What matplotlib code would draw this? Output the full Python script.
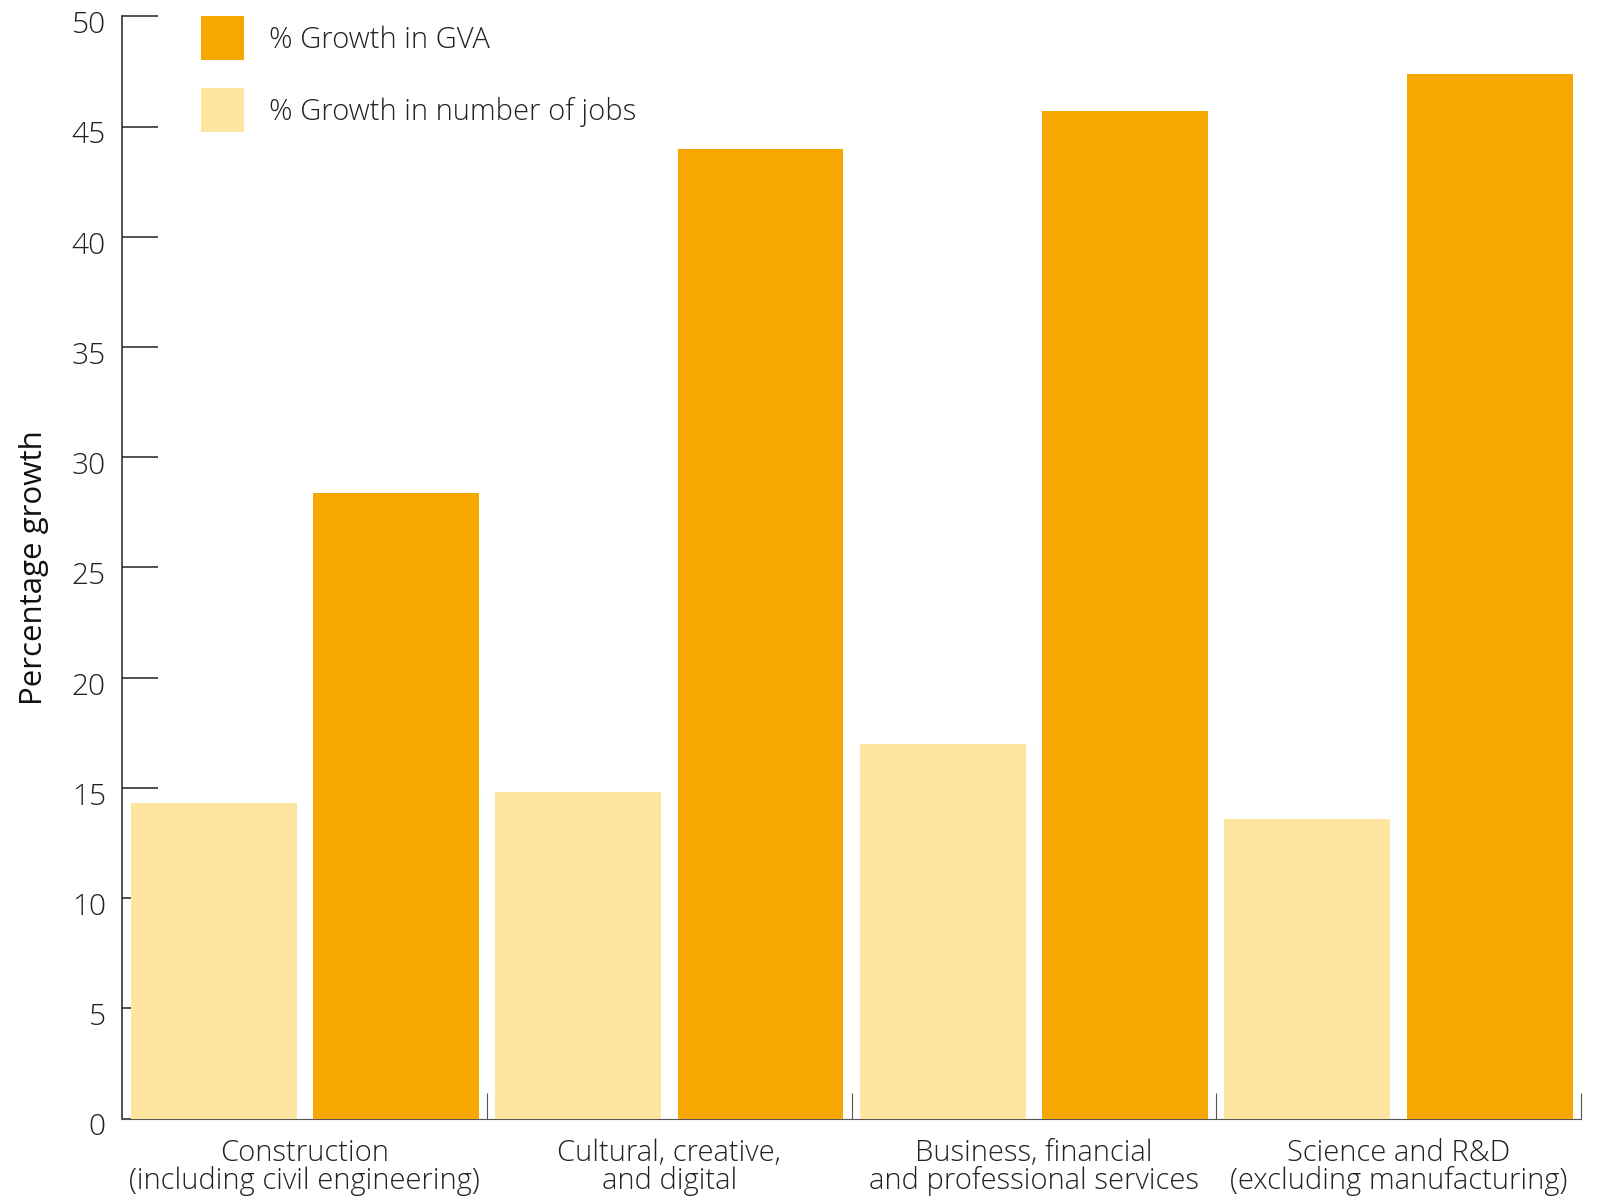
import matplotlib
matplotlib.use('Agg')
import matplotlib.pyplot as plt
import matplotlib.transforms as mtransforms
import numpy as np

# %% data
categories = ['Construction\n(including civil engineering)',
              'Cultural, creative,\nand digital',
              'Business, financial\nand professional services',
              'Science and R&D\n(excluding manufacturing)']
jobs_growth = [14.3, 14.8, 17.0, 13.6]
gva_growth = [28.4, 44.0, 45.7, 47.4]
yticks = [0, 5, 10, 15, 20, 25, 30, 35, 40, 45, 50]

c_gva = '#F6A700'
c_jobs = '#FEE6A1'

plt.rcParams['font.family'] = ['Open Sans', 'DejaVu Sans']
plt.rcParams['font.weight'] = 'light'

fig = plt.figure(figsize=(15.99, 12.01), dpi=100)
ax = fig.add_axes([0.0766, 0.0686, 0.9120, 0.9178])

x = np.arange(len(categories))
w = 0.455
ax.bar(x - 0.25, jobs_growth, width=w, color=c_jobs, label='% Growth in number of jobs', zorder=3)
ax.bar(x + 0.25, gva_growth, width=w, color=c_gva, label='% Growth in GVA', zorder=3)

ax.set_xlim(-0.5, 3.5)
ax.set_ylim(0, 50)

# y axis
ax.set_yticks(yticks)
ax.tick_params(axis='y', direction='in', length=26, width=1.1, color='#222222',
               labelsize=21.5, pad=12, labelcolor='#222222')
# labels sit a little below their tick marks in the original
shift = mtransforms.ScaledTranslation(0, -4 / 72, fig.dpi_scale_trans)
for lab in ax.get_yticklabels():
    lab.set_transform(lab.get_transform() + shift)

# x axis: labels at group centres, small separator ticks between groups
ax.set_xticks(x)
ax.set_xticklabels(categories, fontsize=21, linespacing=0.95, color='#222222')
ax.tick_params(axis='x', which='major', length=0, pad=14)
ax.set_xticks([0.5, 1.5, 2.5, 3.5], minor=True)
ax.tick_params(axis='x', which='minor', direction='in', length=19, width=0.8, color='#555555')

ax.spines['top'].set_visible(False)
ax.spines['right'].set_visible(False)
ax.spines['left'].set_linewidth(1.1)
ax.spines['left'].set_color('#222222')
ax.spines['bottom'].set_linewidth(0.8)
ax.spines['bottom'].set_color('#555555')

ax.set_ylabel('Percentage growth', fontsize=22.5, fontweight='normal',
              color='#111111', labelpad=16)

handles, labels = ax.get_legend_handles_labels()
ax.legend(handles[::-1], labels[::-1], loc='upper left', bbox_to_anchor=(0.054, 1.0),
          frameon=False, fontsize=21, handlelength=1.48, handleheight=1.95,
          labelspacing=0.95, handletextpad=0.86, borderpad=0, borderaxespad=0,
          labelcolor='#222222')

fig.savefig('out.png', dpi=100)
